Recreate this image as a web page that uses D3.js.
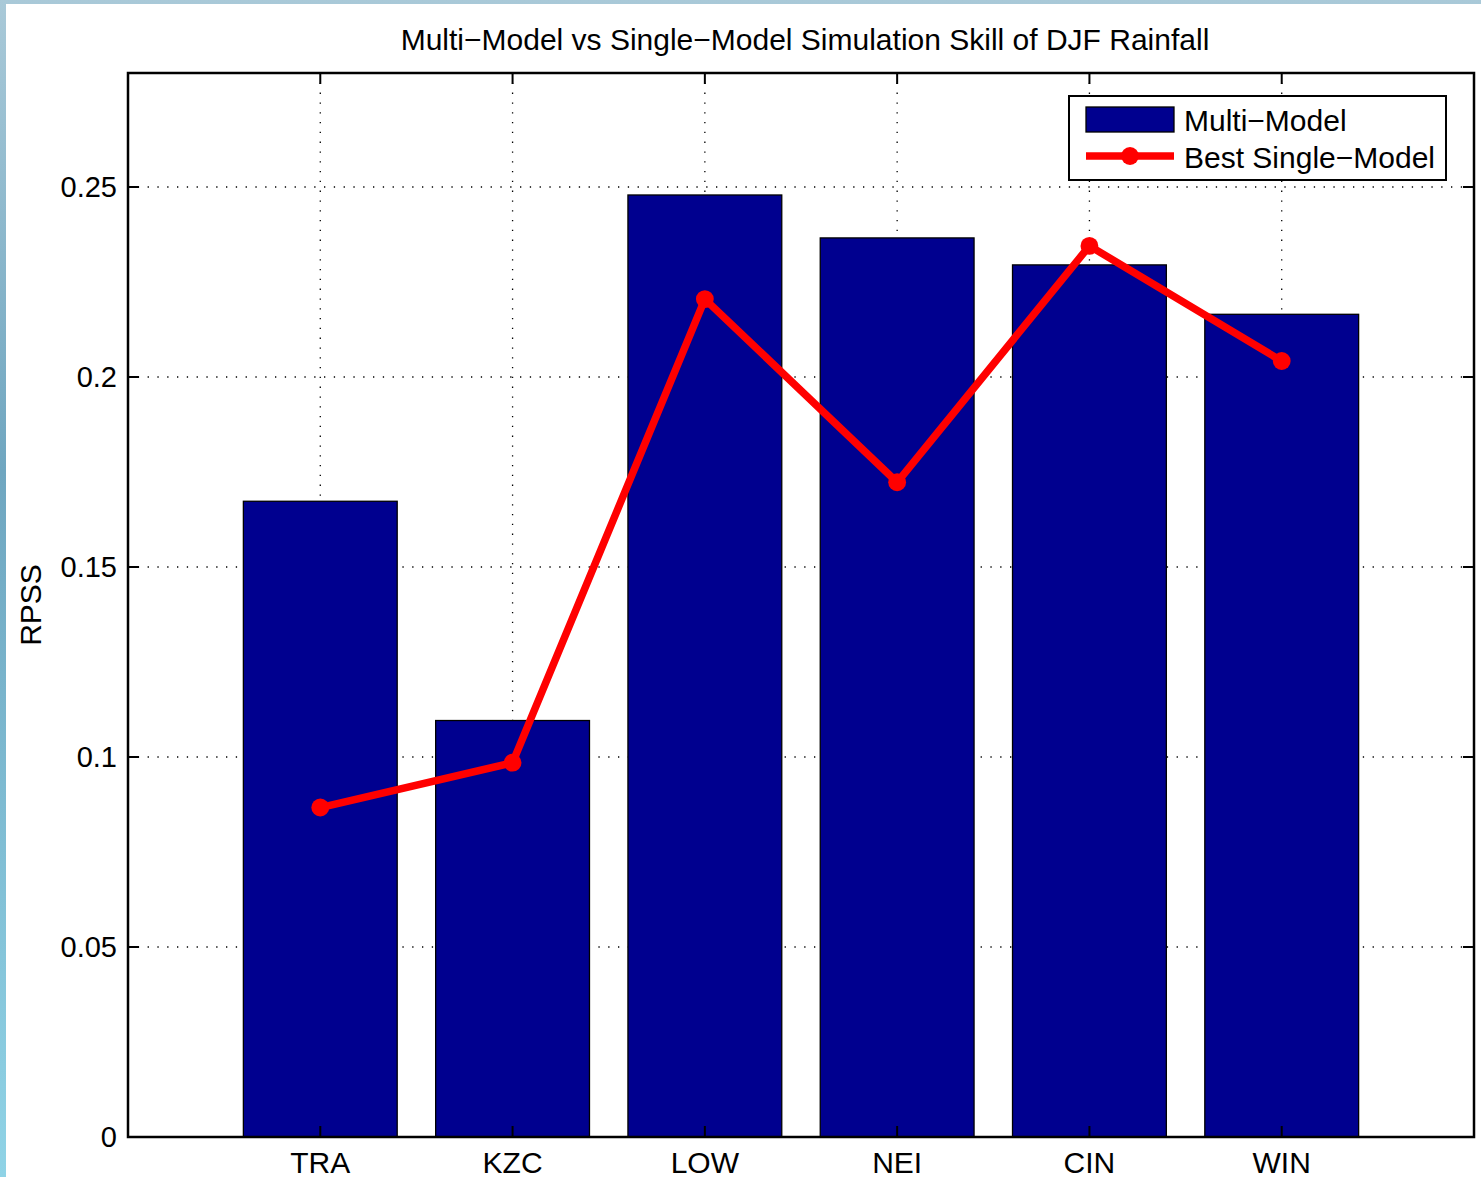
<!DOCTYPE html>
<html>
<head>
<meta charset="utf-8">
<script src="https://cdn.jsdelivr.net/npm/d3@7"></script>
<style>
  body { margin: 0; padding: 0; overflow: hidden; }
  text { font-family: "Liberation Sans", Arial, sans-serif; fill: #000; }
</style>
</head>
<body>
<svg id="chart"></svg>
<script>
// chart values
const regions = ["TRA", "KZC", "LOW", "NEI", "CIN", "WIN"];
const multiModel = [0.1673, 0.1096, 0.2479, 0.2366, 0.2295, 0.2165];
const bestSingle = [0.0867, 0.0985, 0.2205, 0.1723, 0.2345, 0.2042];
const yTicks = [0, 0.05, 0.1, 0.15, 0.2, 0.25];
const yTickLabels = ["0", "0.05", "0.1", "0.15", "0.2", "0.25"];

const W = 1481, H = 1177;
const margin = { top: 73, right: 7, bottom: 40, left: 128 };
const width = W - margin.left - margin.right;
const height = H - margin.top - margin.bottom;

const svg = d3.select("#chart").attr("width", W).attr("height", H);

// slide-ish background
const defs = svg.append("defs");
const grad = defs.append("linearGradient").attr("id", "bg")
  .attr("x1", "0").attr("y1", "0").attr("x2", "0").attr("y2", "1");
grad.append("stop").attr("offset", "0").attr("stop-color", "#a9c9d8");
grad.append("stop").attr("offset", "0.4").attr("stop-color", "#6fa6c0");
grad.append("stop").attr("offset", "1").attr("stop-color", "#8fd3e6");
svg.append("rect").attr("width", W).attr("height", H).attr("fill", "url(#bg)");
svg.append("rect").attr("x", 6).attr("y", 4).attr("width", W - 6).attr("height", H - 4).attr("fill", "#fff");

const g = svg.append("g").attr("transform", `translate(${margin.left},${margin.top})`);

const x = d3.scaleLinear().domain([0, 7]).range([0, width]);
const y = d3.scaleLinear().domain([0, 0.28]).range([height, 0]);
const barW = x(0.8) - x(0);

// grid
g.append("g").selectAll("line").data(yTicks.slice(1)).join("line")
  .attr("x1", 0).attr("x2", width)
  .attr("y1", d => y(d)).attr("y2", d => y(d))
  .attr("stroke", "#000").attr("stroke-width", 1.3).attr("stroke-dasharray", "1.3,8.5");
g.append("g").selectAll("line").data(regions).join("line")
  .attr("x1", (d, i) => x(i + 1)).attr("x2", (d, i) => x(i + 1))
  .attr("y1", 0).attr("y2", height)
  .attr("stroke", "#000").attr("stroke-width", 1.3).attr("stroke-dasharray", "1.3,8.5");

// bars
g.append("g").selectAll("rect").data(multiModel).join("rect")
  .attr("x", (d, i) => x(i + 1) - barW / 2)
  .attr("width", barW)
  .attr("y", d => y(d))
  .attr("height", d => height - y(d))
  .attr("fill", "#00008f")
  .attr("stroke", "#000").attr("stroke-width", 1.3);

// line
const line = d3.line().x((d, i) => x(i + 1)).y(d => y(d));
g.append("path").datum(bestSingle)
  .attr("d", line)
  .attr("fill", "none").attr("stroke", "#ff0000").attr("stroke-width", 7.5)
  .attr("stroke-linejoin", "round");
const oct = d3.symbol().type(d3.symbolCircle).size(250);
g.append("g").selectAll("path").data(bestSingle).join("path")
  .attr("transform", (d, i) => `translate(${x(i + 1)},${y(d)})`)
  .attr("d", oct)
  .attr("fill", "#ff0000");

// axes box
g.append("rect").attr("width", width).attr("height", height)
  .attr("fill", "none").attr("stroke", "#000").attr("stroke-width", 2.5);

// ticks (inside, all four sides)
const tl = 11;
yTicks.forEach(t => {
  g.append("line").attr("x1", 0).attr("x2", tl).attr("y1", y(t)).attr("y2", y(t)).attr("stroke", "#000").attr("stroke-width", 2);
  g.append("line").attr("x1", width).attr("x2", width - tl).attr("y1", y(t)).attr("y2", y(t)).attr("stroke", "#000").attr("stroke-width", 2);
});
regions.forEach((r, i) => {
  g.append("line").attr("x1", x(i + 1)).attr("x2", x(i + 1)).attr("y1", height).attr("y2", height - tl).attr("stroke", "#000").attr("stroke-width", 2);
  g.append("line").attr("x1", x(i + 1)).attr("x2", x(i + 1)).attr("y1", 0).attr("y2", tl).attr("stroke", "#000").attr("stroke-width", 2);
});

// tick labels
g.append("g").selectAll("text").data(yTicks).join("text")
  .attr("x", -11).attr("y", d => y(d)).attr("dy", "0.35em")
  .attr("text-anchor", "end").attr("font-size", 29)
  .text((d, i) => yTickLabels[i]);
g.append("g").selectAll("text").data(regions).join("text")
  .attr("x", (d, i) => x(i + 1)).attr("y", height + 36)
  .attr("text-anchor", "middle").attr("font-size", 30)
  .text(d => d);

// y label
svg.append("text")
  .attr("transform", `translate(41,${margin.top + height / 2}) rotate(-90)`)
  .attr("text-anchor", "middle").attr("font-size", 30)
  .text("RPSS");

// title
svg.append("text")
  .attr("x", margin.left + width / 2 + 4).attr("y", 50)
  .attr("text-anchor", "middle").attr("font-size", 30)
  .text("Multi\u2212Model vs Single\u2212Model Simulation Skill of DJF Rainfall");

// legend
const lg = svg.append("g").attr("transform", "translate(1069,96)");
lg.append("rect").attr("width", 377).attr("height", 84)
  .attr("fill", "#fff").attr("stroke", "#000").attr("stroke-width", 2);
lg.append("rect").attr("x", 17).attr("y", 11).attr("width", 88).attr("height", 25)
  .attr("fill", "#00008f").attr("stroke", "#000").attr("stroke-width", 1.3);
lg.append("line").attr("x1", 17).attr("x2", 105).attr("y1", 60).attr("y2", 60)
  .attr("stroke", "#ff0000").attr("stroke-width", 7.5);
lg.append("path").attr("transform", "translate(61,60)").attr("d", oct).attr("fill", "#ff0000");
lg.append("text").attr("x", 115).attr("y", 24).attr("dy", "0.35em").attr("font-size", 30).text("Multi\u2212Model");
lg.append("text").attr("x", 115).attr("y", 61).attr("dy", "0.35em").attr("font-size", 30).text("Best Single\u2212Model");
</script>
</body>
</html>
